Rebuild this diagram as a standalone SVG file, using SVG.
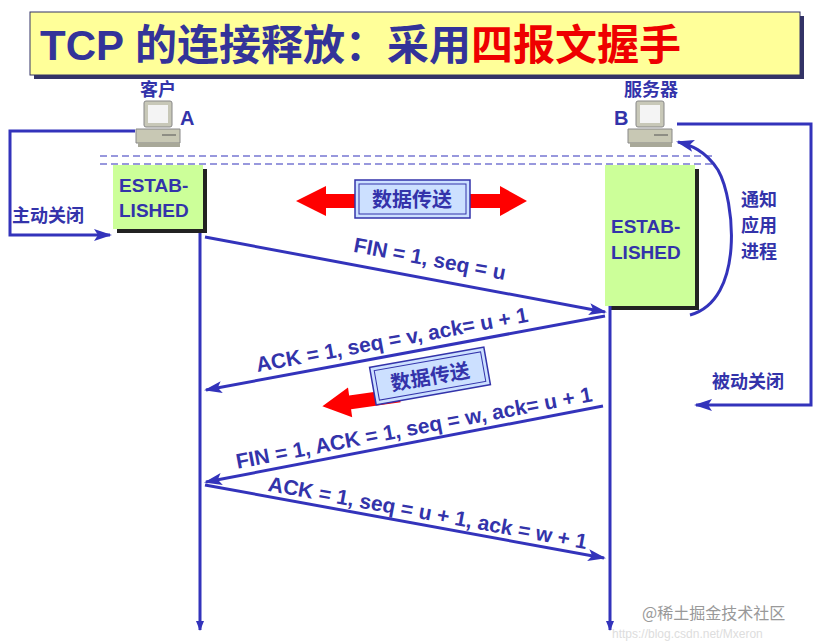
<svg xmlns="http://www.w3.org/2000/svg" width="814" height="644" viewBox="0 0 814 644">
<defs>
<marker id="ah" markerWidth="10" markerHeight="8" refX="9" refY="4" orient="auto" markerUnits="userSpaceOnUse" viewBox="0 0 10 8"><path d="M0,0 L10,4 L0,8 z" fill="#3333BB"/></marker>
<marker id="ahb" markerWidth="18" markerHeight="12" refX="16" refY="6" orient="auto" markerUnits="userSpaceOnUse" viewBox="0 0 18 12"><path d="M0,0 L18,6 L0,12 L4,6 z" fill="#3333BB"/></marker>
<g id="pc">
<rect x="8" y="0" width="28" height="26" rx="2" fill="#c8c8b8" stroke="#888" stroke-width="1"/>
<rect x="12" y="4" width="20" height="18" fill="#f4f4f4"/>
<path d="M0,28 L44,28 L44,42 L0,42 z" fill="#c8c8b4" stroke="#888" stroke-width="1"/>
<line x1="26" y1="34" x2="40" y2="34" stroke="#555"/>
<rect x="2" y="42" width="42" height="4" fill="#a8a898"/>
</g>
</defs>
<style>
.t{font-family:"Liberation Sans","Noto Sans CJK SC",sans-serif;font-weight:bold;fill:#3333AA}
.c{font-family:"Noto Sans CJK SC",sans-serif;font-weight:bold;fill:#3333AA}
.ln{stroke:#3333BB;stroke-width:3;fill:none}
.est{fill:#ccff99;}
.lab{fill:#cce0ff;stroke:#3333AA;stroke-width:1.5}
</style>
<rect width="814" height="644" fill="#fff"/>
<g id="title">
<rect x="34" y="16" width="770" height="63" fill="#333366"/>
<rect x="30" y="12" width="770" height="63" fill="#ffff99" stroke="#333366" stroke-width="1"/>
<text x="40" y="60" font-size="42" class="c" style="fill:#333399"><tspan font-family="Liberation Sans">TCP </tspan>的连接释放：采用<tspan style="fill:#ee0000">四报文握手</tspan></text>
</g>
<g id="clientA">
<text x="158" y="96" font-size="18" class="c" text-anchor="middle">客户</text>
<use href="#pc" x="136" y="101"/>
<text x="180" y="125" font-size="20" class="t">A</text>
</g>
<g id="serverB">
<text x="651" y="96" font-size="18" class="c" text-anchor="middle">服务器</text>
<use href="#pc" x="628" y="101"/>
<text x="614" y="125" font-size="20" class="t">B</text>
</g>
<g id="dash" stroke="#3333BB" stroke-width="1.2" stroke-dasharray="7,4">
<line x1="100" y1="156" x2="715" y2="156"/>
<line x1="100" y1="164" x2="715" y2="164"/>
</g>
<g id="estA">
<rect x="117" y="169" width="90" height="64" fill="#222"/>
<rect x="113" y="165" width="90" height="64" class="est"/>
<text x="119" y="192" font-size="19" class="t">ESTAB-</text>
<text x="119" y="217" font-size="19" class="t">LISHED</text>
</g>
<g id="estB">
<rect x="609" y="169" width="90" height="141" fill="#222"/>
<rect x="605" y="165" width="90" height="141" class="est"/>
<text x="611" y="233" font-size="19" class="t">ESTAB-</text>
<text x="611" y="259" font-size="19" class="t">LISHED</text>
</g>
<g id="connectors">
<line x1="200" y1="233" x2="200" y2="630" class="ln" marker-end="url(#ah)"/>
<line x1="610" y1="306" x2="610" y2="630" class="ln" marker-end="url(#ah)"/>
<path d="M135,131 L10,131 L10,235 L110,235" class="ln" marker-end="url(#ahb)"/>
<path d="M677,124 L811,124 L811,405 L696,405" class="ln" marker-end="url(#ahb)"/>
<path d="M690,315 C745,300 735,200 718,170 C705,150 690,145 678,142" class="ln" marker-end="url(#ahb)"/>
<line x1="205" y1="237" x2="605" y2="312" class="ln" marker-end="url(#ahb)"/>
<line x1="605" y1="316" x2="206" y2="390" class="ln" marker-end="url(#ahb)"/>
<line x1="603" y1="406" x2="206" y2="482" class="ln" marker-end="url(#ahb)"/>
<line x1="205" y1="485" x2="604" y2="558" class="ln" marker-end="url(#ahb)"/>
</g>
<text x="12" y="222" font-size="18" class="c">主动关闭</text>
<text x="712" y="388" font-size="18" class="c">被动关闭</text>
<text x="741" y="206" font-size="18" class="c">通知</text>
<text x="741" y="232" font-size="18" class="c">应用</text>
<text x="741" y="258" font-size="18" class="c">进程</text>
<g id="data1">
<path d="M296,201 L326,186 L326,194 L500,194 L500,186 L527,201 L500,216 L500,208 L326,208 L326,216 z" fill="#ff0000"/>
<rect x="355" y="180" width="115" height="38" class="lab"/>
<rect x="359" y="184" width="107" height="30" fill="none" stroke="#3333AA" stroke-width="1"/>
<text x="412" y="207" font-size="20" class="c" text-anchor="middle">数据传送</text>
</g>
<g id="data2">
<path d="M322,401 L350,386 L350,394 L400,394 L400,408 L350,408 L350,416 z" fill="#ff0000" transform="rotate(-8 360 401)"/>
<g transform="rotate(-10 430 376)">
<rect x="372" y="357" width="116" height="38" class="lab"/>
<rect x="376" y="361" width="108" height="30" fill="none" stroke="#3333AA" stroke-width="1"/>
<text x="430" y="384" font-size="20" class="c" text-anchor="middle">数据传送</text>
</g>
</g>
<g font-size="21">
<text class="t" x="430" y="266" text-anchor="middle" transform="rotate(10.6 430 258)">FIN = 1, seq = u</text>
<text class="t" x="392" y="347" text-anchor="middle" transform="rotate(-10.5 392 340)">ACK = 1, seq = v, ack= u + 1</text>
<text class="t" x="414" y="435" text-anchor="middle" transform="rotate(-10.8 414 428)">FIN = 1, ACK = 1, seq = w, ack= u + 1</text>
<text class="t" x="428" y="520" text-anchor="middle" transform="rotate(10.4 428 512)">ACK = 1, seq = u + 1, ack = w + 1</text>
</g>
<text x="642" y="619" font-size="16" font-family="Noto Sans CJK SC,sans-serif" fill="#999">@稀土掘金技术社区</text>
<text x="612" y="638" font-size="12" font-family="Liberation Sans,sans-serif" fill="#ddd">https://blog.csdn.net/Mxeron</text>
</svg>
